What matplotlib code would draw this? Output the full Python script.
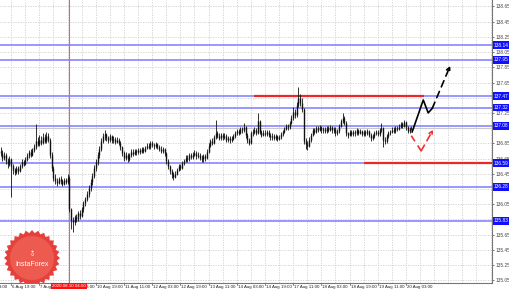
import numpy as np
import matplotlib
matplotlib.use('Agg')
from matplotlib import pyplot as plt
from matplotlib import transforms
from matplotlib.patches import Polygon

plt.rcParams['font.family'] = ['Liberation Sans', 'DejaVu Sans']

# H1 bars, bar index counted in trading hours from 6 Aug 03:00
first_bar = 10
first_open = 136.75
closes = [
    136.72, 136.66, 136.70, 136.62, 136.58, 136.64, 136.55, 136.50, 136.47, 136.52,
    136.49, 136.55, 136.60, 136.58, 136.64, 136.68, 136.73, 136.70, 136.76, 136.80,
    136.88, 136.84, 136.90, 136.86, 136.93, 136.88, 136.95, 136.90, 136.70, 136.52,
    136.40, 136.36, 136.33, 136.38, 136.35, 136.32, 136.37, 136.34, 136.40, 135.98,
    135.84, 135.82, 135.88, 135.86, 135.93, 135.90, 135.98, 136.06, 136.12, 136.18,
    136.26, 136.34, 136.42, 136.52, 136.60, 136.70, 136.78, 136.88, 136.94, 136.97,
    136.92, 136.90, 136.94, 136.89, 136.91, 136.87, 136.90, 136.86, 136.80, 136.72,
    136.66, 136.70, 136.64, 136.69, 136.74, 136.71, 136.75, 136.73, 136.76, 136.74,
    136.77, 136.75, 136.79, 136.82, 136.80, 136.85, 136.83, 136.81, 136.84, 136.80,
    136.78, 136.75, 136.77, 136.72, 136.62, 136.55, 136.48, 136.44, 136.41, 136.45,
    136.50, 136.55, 136.53, 136.59, 136.62, 136.66, 136.64, 136.69, 136.67, 136.70,
    136.72, 136.68, 136.70, 136.66, 136.64, 136.68, 136.66, 136.74, 136.82, 136.88,
    136.86, 136.93, 136.98, 136.95, 136.92, 136.96, 136.93, 136.95, 136.90, 136.92,
    136.89, 136.91, 136.94, 136.98, 137.01, 136.99, 137.04, 137.02, 137.06, 136.96,
    136.90, 136.86, 136.98, 137.00, 137.02, 136.99, 137.14, 137.00, 136.96, 136.99,
    136.97, 137.00, 136.96, 136.93, 136.95, 136.92, 136.94, 136.91, 136.93, 136.97,
    137.00, 137.04, 137.08, 137.06, 137.12, 137.18, 137.26, 137.22, 137.36, 137.44,
    137.38, 137.30, 136.88, 136.84, 136.82, 136.90, 136.96, 137.02, 137.00, 137.05,
    137.03, 137.06, 137.02, 137.04, 137.01, 137.05, 137.03, 137.06, 137.02, 137.04,
    136.99, 137.01, 137.08, 137.14, 137.18, 137.12, 136.98, 136.96, 137.00, 136.97,
    137.00, 136.98, 137.02, 136.99, 137.01, 136.97, 137.00, 136.98, 137.01, 136.96,
    136.92, 136.94, 136.98, 137.00, 136.97, 137.02, 137.05, 136.90, 136.88, 136.94,
    136.98, 137.00, 137.03, 137.01, 137.05, 137.04, 137.07, 137.10, 137.08, 137.13,
    137.06, 137.01, 137.04, 137.05,
]
highs = [
    136.80, 136.76, 136.74, 136.72, 136.66, 136.68, 136.66, 136.58, 136.53, 136.55,
    136.55, 136.58, 136.64, 136.63, 136.67, 136.72, 136.76, 136.77, 136.79, 136.84,
    137.10, 136.93, 136.96, 136.94, 136.99, 136.97, 137.00, 136.98, 136.92, 136.73,
    136.55, 136.44, 136.39, 136.41, 136.42, 136.38, 136.40, 136.40, 136.44, 136.42,
    136.00, 135.88, 135.91, 135.92, 135.96, 135.97, 136.01, 136.09, 136.15, 136.22,
    136.30, 136.38, 136.46, 136.56, 136.64, 136.74, 136.82, 136.92, 136.98, 137.02,
    136.99, 136.95, 136.97, 136.96, 136.94, 136.93, 136.93, 136.92, 136.88, 136.82,
    136.75, 136.73, 136.72, 136.72, 136.77, 136.77, 136.78, 136.78, 136.79, 136.79,
    136.80, 136.80, 136.82, 136.85, 136.85, 136.88, 136.88, 136.86, 136.87, 136.86,
    136.83, 136.81, 136.80, 136.79, 136.74, 136.64, 136.57, 136.51, 136.47, 136.48,
    136.53, 136.58, 136.58, 136.62, 136.65, 136.69, 136.69, 136.72, 136.72, 136.73,
    136.76, 136.75, 136.73, 136.72, 136.69, 136.71, 136.71, 136.77, 136.85, 136.91,
    136.92, 136.96, 137.16, 137.01, 136.98, 136.99, 136.98, 136.98, 136.97, 136.95,
    136.94, 136.94, 136.97, 137.01, 137.04, 137.04, 137.07, 137.07, 137.12, 137.08,
    136.98, 136.92, 137.01, 137.04, 137.06, 137.05, 137.25, 137.16, 137.02, 137.02,
    137.02, 137.03, 137.02, 136.98, 136.98, 136.97, 136.97, 136.96, 136.96, 137.00,
    137.03, 137.07, 137.11, 137.11, 137.15, 137.22, 137.33, 137.30, 137.40, 137.59,
    137.50, 137.44, 137.32, 136.92, 136.88, 136.93, 136.99, 137.05, 137.05, 137.08,
    137.08, 137.09, 137.08, 137.07, 137.06, 137.08, 137.08, 137.09, 137.08, 137.07,
    137.06, 137.04, 137.11, 137.17, 137.25, 137.21, 137.14, 137.00, 137.03, 137.03,
    137.03, 137.03, 137.05, 137.04, 137.04, 137.03, 137.03, 137.02, 137.04, 137.03,
    136.98, 136.97, 137.01, 137.03, 137.02, 137.05, 137.12, 137.07, 136.93, 136.97,
    137.01, 137.03, 137.06, 137.06, 137.08, 137.08, 137.10, 137.13, 137.13, 137.16,
    137.15, 137.08, 137.06, 137.08,
]
lows = [
    136.68, 136.62, 136.63, 136.58, 136.52, 136.55, 136.14, 136.44, 136.43, 136.44,
    136.45, 136.47, 136.53, 136.55, 136.56, 136.62, 136.66, 136.67, 136.68, 136.74,
    136.78, 136.81, 136.82, 136.83, 136.84, 136.85, 136.86, 136.87, 136.66, 136.48,
    136.36, 136.32, 136.29, 136.31, 136.32, 136.29, 136.30, 136.31, 136.32, 135.94,
    135.72, 135.68, 135.78, 135.81, 135.83, 135.86, 135.88, 135.95, 136.03, 136.09,
    136.15, 136.22, 136.30, 136.39, 136.48, 136.57, 136.66, 136.75, 136.85, 136.90,
    136.88, 136.86, 136.87, 136.86, 136.86, 136.84, 136.85, 136.83, 136.76, 136.68,
    136.62, 136.63, 136.60, 136.62, 136.67, 136.68, 136.69, 136.70, 136.71, 136.71,
    136.72, 136.72, 136.73, 136.77, 136.77, 136.78, 136.80, 136.78, 136.79, 136.77,
    136.75, 136.72, 136.72, 136.68, 136.58, 136.51, 136.44, 136.40, 136.37, 136.39,
    136.43, 136.48, 136.50, 136.51, 136.57, 136.60, 136.61, 136.62, 136.64, 136.65,
    136.68, 136.65, 136.66, 136.63, 136.60, 136.61, 136.62, 136.64, 136.72, 136.80,
    136.83, 136.84, 136.91, 136.92, 136.89, 136.90, 136.90, 136.91, 136.87, 136.87,
    136.86, 136.87, 136.89, 136.92, 136.96, 136.96, 136.97, 136.99, 137.00, 136.92,
    136.86, 136.83, 136.84, 136.95, 136.97, 136.96, 136.97, 136.97, 136.93, 136.94,
    136.94, 136.95, 136.93, 136.90, 136.90, 136.89, 136.90, 136.88, 136.89, 136.91,
    136.95, 136.98, 137.02, 137.03, 137.04, 137.10, 137.16, 137.18, 137.20, 137.33,
    137.34, 137.26, 136.84, 136.78, 136.76, 136.80, 136.87, 136.94, 136.97, 136.98,
    137.00, 137.01, 136.99, 136.99, 136.98, 136.99, 137.00, 137.01, 136.99, 136.99,
    136.95, 136.96, 136.99, 137.06, 137.12, 137.09, 136.94, 136.92, 136.94, 136.94,
    136.95, 136.95, 136.96, 136.96, 136.97, 136.94, 136.95, 136.95, 136.96, 136.93,
    136.88, 136.89, 136.92, 136.96, 136.94, 136.95, 137.00, 136.80, 136.84, 136.86,
    136.92, 136.96, 136.98, 136.99, 136.99, 137.01, 137.02, 137.05, 137.05, 137.06,
    137.03, 136.98, 136.99, 137.02,
]

tick_bars = [0, 16, 32, 48, 64, 80, 96, 112, 128, 144, 160, 176, 192, 208, 224, 240]
tick_labels = ['6 Aug 03:00', '6 Aug 19:00', '7 Aug 11:00', '10 Aug 03:00', '10 Aug 19:00',
               '11 Aug 11:00', '12 Aug 03:00', '12 Aug 19:00', '13 Aug 11:00', '14 Aug 03:00',
               '14 Aug 19:00', '17 Aug 11:00', '18 Aug 03:00', '18 Aug 19:00', '19 Aug 11:00',
               '20 Aug 03:00']
price_ticks = [138.65, 138.45, 138.25, 138.05, 137.85, 137.65, 137.45, 137.25, 137.05,
               136.85, 136.65, 136.45, 136.25, 136.05, 135.85, 135.65, 135.45, 135.25, 135.05]

levels = [138.14, 137.95, 137.47, 137.32, 137.08, 136.59, 136.28, 135.83]
red_levels = [137.47, 136.59]
red_from = [154, 216]
red_to = [250.5, 289]
bid = 137.05
marker_bar = 49
marker_label = '2020.08.10 04:00'

# forecast drawings (bar, price)
black_path_x = [243.5, 249.8, 252.6, 254.9]
black_path_y = [137.00, 137.42, 137.25, 137.31]
black_tip = (265.1, 137.87)
red_path_x = [243.0, 248.6]
red_path_y = [136.95, 136.75]
red_tip = (255.4, 137.03)

W, H = 510, 290
fig = plt.figure(figsize=(W / 100, H / 100), dpi=100)
ax_w, ax_h = 492, 283
ax = fig.add_axes([0, (H - ax_h) / H, ax_w / W, ax_h / H])
ax.set_xlim(9.65, 288.8)
ax.set_ylim(135.012, 138.7355)

# grid
for b in range(0, 290, 8):
    ax.axvline(b, color='#cfcfcf', lw=0.6, ls=(0, (1.5, 1.5)), zorder=0)
for p in price_ticks:
    ax.axhline(p, color='#cfcfcf', lw=0.6, ls=(0, (1.5, 1.5)), zorder=0)

# levels
for lv in levels:
    ax.axhline(lv, color='#7b7bff', lw=1.1, zorder=1)
ax.axhline(bid, color='#c8c8c8', lw=0.8, zorder=1)
for lv, a, b in zip(red_levels, red_from, red_to):
    ax.plot([a, b], [lv, lv], color='#e8282a', lw=1.6, solid_capstyle='butt', zorder=2)
ax.axvline(marker_bar, color='#f06060', lw=0.8, zorder=1)

# candles
bars = np.arange(first_bar, first_bar + len(closes))
opens = [first_open] + closes[:-1]
ax.vlines(bars, lows, highs, color='#111111', lw=0.6, zorder=3)
ax.vlines(bars, np.minimum(opens, closes), np.maximum(opens, closes), color='#111111', lw=1.0, zorder=3)

# forecast
ax.plot(black_path_x, black_path_y, color='black', lw=1.2, zorder=4)
ax.annotate('', xy=black_tip, xytext=(black_path_x[-1], black_path_y[-1]),
            arrowprops=dict(arrowstyle='->', color='black', lw=1.2, linestyle=(0, (4, 3)),
                            mutation_scale=6, shrinkA=0, shrinkB=0), zorder=4)
ax.plot(red_path_x, red_path_y, color='#f03030', lw=1.2, ls=(0, (4, 3)), zorder=4)
ax.annotate('', xy=red_tip, xytext=(red_path_x[-1], red_path_y[-1]),
            arrowprops=dict(arrowstyle='->', color='#f03030', lw=1.2, linestyle=(0, (4, 3)),
                            mutation_scale=6, shrinkA=0, shrinkB=0), zorder=4)

# axes look
for s in ['left', 'top']:
    ax.spines[s].set_visible(False)
for s in ['right', 'bottom']:
    ax.spines[s].set_color('#777777')
    ax.spines[s].set_linewidth(0.8)
ax.yaxis.tick_right()
ax.set_yticks(price_ticks)
# labels lying under a highlighted level box are hidden, as in the terminal
shown = ['' if min(abs(p - lv) for lv in levels) < 0.035 else '%.2f' % p for p in price_ticks]
ax.set_yticklabels(shown, fontsize=3.4, color='#222222')
ax.tick_params(axis='y', length=1.5, width=0.5, pad=1, colors='#444444')
ax.set_xticks([])

bx = transforms.blended_transform_factory(ax.transData, ax.transAxes)
for b, lab in zip(tick_bars, tick_labels):
    ax.plot([b, b], [0, -0.008], transform=bx, color='#555555', lw=0.5, clip_on=False)
    ax.text(b + 0.6, -0.006, lab, transform=bx, fontsize=3.2, ha='left', va='top',
            color='#222222', clip_on=False)
ax.text(marker_bar, -0.004, marker_label, transform=bx, fontsize=3.2, ha='center', va='top',
        color='white', clip_on=False, zorder=6,
        bbox=dict(boxstyle='square,pad=0.25', fc='#ff1010', ec='none'))

by = transforms.blended_transform_factory(ax.transAxes, ax.transData)
for lv in levels:
    ax.text(1.004, lv, '%.2f' % lv, transform=by, fontsize=3.4, ha='left', va='center',
            color='white', clip_on=False, zorder=6,
            bbox=dict(boxstyle='square,pad=0.3', fc='#1010ff', ec='none'))

# InstaForex badge (pixel units inside the axes)
cx, cy = 32, 25
n_teeth = 28
ang = np.linspace(0, 2 * np.pi, 2 * n_teeth, endpoint=False)
rad = np.where(np.arange(2 * n_teeth) % 2 == 0, 28, 25)
verts = np.column_stack([(cx + rad * np.cos(ang)) / ax_w, (cy + rad * np.sin(ang)) / ax_h])
ax.add_patch(Polygon(verts, closed=True, transform=ax.transAxes, fc='#e5403b', ec='none', zorder=5))
ax.add_patch(Polygon(np.column_stack([(cx + 22 * np.cos(ang)) / ax_w, (cy + 22 * np.sin(ang)) / ax_h]),
                     closed=True, transform=ax.transAxes, fc='#ec5a50', ec='none', zorder=5))
ax.text(cx / ax_w, (cy - 7) / ax_h, 'InstaForex', transform=ax.transAxes, fontsize=5,
        color='white', ha='center', va='center', zorder=6)
ax.text(cx / ax_w, (cy + 5) / ax_h, '\u2641', transform=ax.transAxes, fontsize=7,
        color='white', ha='center', va='center', zorder=6)

fig.savefig('out.png', dpi=100)
